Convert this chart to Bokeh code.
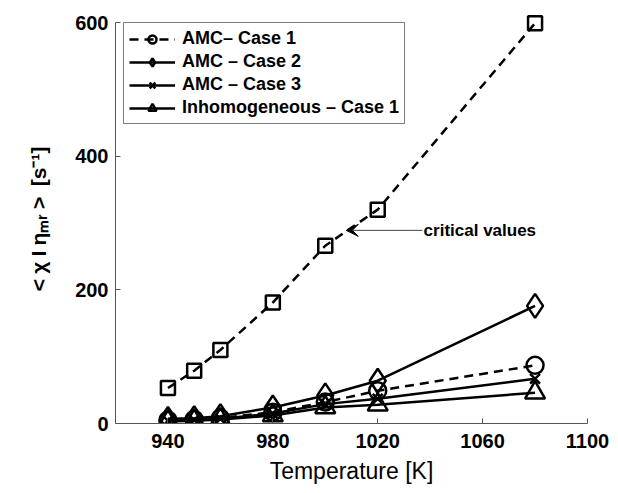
from bokeh.plotting import figure
from bokeh.models import Range1d, FixedTicker, Legend, LegendItem, Arrow, VeeHead, Label
from bokeh.embed import file_html
from bokeh.resources import INLINE

temps = [940, 950, 960, 980, 1000, 1020, 1080]
amc_case1 = [5, 6, 8, 17, 32, 49, 87]
amc_case2 = [7, 8, 11, 24, 42, 64, 176]
amc_case3 = [4, 5, 7, 15, 29, 37, 67]
inhom_case1 = [3, 4, 6, 12, 24, 28, 46]
critical = [53, 79, 110, 181, 266, 320, 599]

x_ticks = [940, 980, 1020, 1060, 1100]
y_ticks = [0, 200, 400, 600]

FONT = "Liberation Sans"
SP = "\u2005"

p = figure(width=610, height=490, output_backend="svg", toolbar_location=None,
           x_range=Range1d(920, 1100), y_range=Range1d(0, 612),
           min_border_left=115, min_border_right=23, min_border_top=14, min_border_bottom=67)
p.xgrid.visible = False
p.ygrid.visible = False
p.outline_line_color = None
p.background_fill_color = "white"

for ax, ticks in ((p.xaxis[0], x_ticks), (p.yaxis[0], y_ticks)):
    ax.ticker = FixedTicker(ticks=ticks)
    ax.minor_tick_line_color = None
    ax.major_tick_in = 5
    ax.major_tick_out = 0
    ax.axis_line_color = "#555555"
    ax.major_tick_line_color = "#555555"
    ax.major_label_text_font = FONT
    ax.major_label_text_font_style = "bold"
    ax.major_label_text_font_size = "20px"
    ax.major_label_text_color = "black"
    ax.axis_label_text_font = FONT
    ax.axis_label_text_color = "black"

p.yaxis.bounds = (0, 600)
p.xaxis.major_label_standoff = 10
p.yaxis.major_label_standoff = 7
p.xaxis.axis_label = "Temperature [K]"
p.xaxis.axis_label_text_font_style = "normal"
p.xaxis.axis_label_text_font_size = "23px"
p.xaxis.axis_label_standoff = 7
p.yaxis.axis_label = ("<" + SP + "\u03c7" + SP + "I" + SP + "\u03b7\u2098\u1d63" + SP + ">"
                      + SP + SP + "[s\u207b\u00b9]")
p.yaxis.axis_label_text_font_style = "bold"
p.yaxis.axis_label_text_font_size = "21px"
p.yaxis.axis_label_standoff = 22

LW = 2.5
series = [
    (amc_case1, "circle", 17, "9 6", "AMC\u2013 Case 1"),
    (amc_case2, "diamond", 24, "solid", "AMC \u2013 Case 2"),
    (amc_case3, "x", 14, "solid", "AMC \u2013 Case 3"),
    (inhom_case1, "triangle", 20, "solid", "Inhomogeneous \u2013 Case 1"),
]
items = []
for vals, marker, size, dash, label in series:
    ln = p.line(temps, vals, line_color="black", line_width=LW, line_dash=dash)
    sc = p.scatter(temps, vals, marker=marker, size=size, fill_color=None,
                   line_color="black", line_width=LW)
    items.append(LegendItem(label=label, renderers=[ln, sc]))

p.line(temps, critical, line_color="black", line_width=LW, line_dash="9 6")
p.scatter(temps, critical, marker="square", size=14, fill_color=None,
          line_color="black", line_width=LW)

legend = Legend(items=items, location="top_left")
legend.margin = 8
legend.padding = 5
legend.spacing = 2
legend.glyph_width = 46
legend.glyph_height = 20
legend.label_height = 20
legend.label_standoff = 7
legend.label_text_font = FONT
legend.label_text_font_style = "bold"
legend.label_text_font_size = "18px"
legend.label_text_color = "black"
legend.border_line_color = "black"
legend.border_line_width = 1
legend.background_fill_alpha = 1
p.add_layout(legend, "center")

p.add_layout(Arrow(end=VeeHead(size=12, fill_color="black", line_color="black"),
                   x_start=1037, y_start=289, x_end=1008, y_end=289,
                   line_color="#444444", line_width=1))
p.add_layout(Label(x=1037.5, y=289, text="critical values", text_font=FONT,
                   text_font_style="bold", text_font_size="17px",
                   text_baseline="middle", text_align="left", text_color="black"))

open("out.html", "w").write(file_html(p, INLINE))
